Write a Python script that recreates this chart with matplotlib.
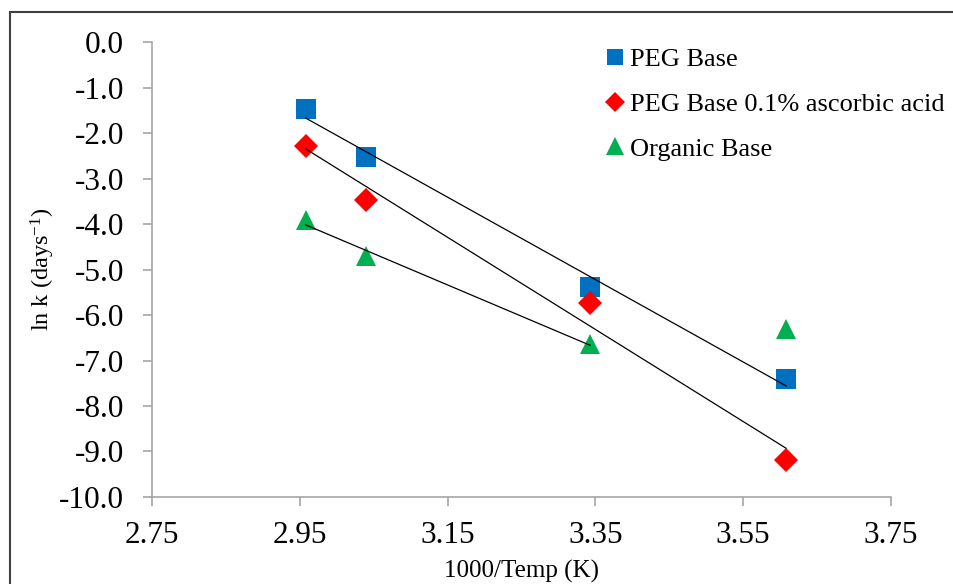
import numpy as np
import matplotlib
matplotlib.use("Agg")
import matplotlib.pyplot as plt
from matplotlib.lines import Line2D

plt.rcParams['font.family'] = ['Liberation Serif', 'DejaVu Serif']
plt.rcParams['axes.unicode_minus'] = False
plt.rcParams['mathtext.default'] = 'regular'

# data
inv_temp = [2.958, 3.039, 3.343, 3.608]
peg_base = [-1.47, -2.53, -5.38, -7.41]
peg_ascorbic = [-2.29, -3.47, -5.74, -9.19]
organic_base = [-3.92, -4.70, -6.64, -6.31]
organic_fit_n = 3  # trendline only through the first three points

x_ticks = [2.75, 2.95, 3.15, 3.35, 3.55, 3.75]
y_ticks = [0, -1, -2, -3, -4, -5, -6, -7, -8, -9, -10]

fig = plt.figure(figsize=(9.54, 5.84), dpi=100)
ax = fig.add_axes([0.1593, 0.149, 0.7746, 0.779])

series = [
    (peg_base, len(inv_temp), 's', '#0070C0', 13.7, 'PEG Base'),
    (peg_ascorbic, len(inv_temp), 'D', '#FF0000', 12.5, 'PEG Base 0.1% ascorbic acid'),
    (organic_base, organic_fit_n, '^', '#00B050', 14.6, 'Organic Base'),
]

for y, n, mk, col, ms, lab in series:
    ax.plot(inv_temp, y, linestyle='none', marker=mk, color=col,
            markersize=ms, markeredgewidth=0, label=lab, zorder=2)
    # linear trendline like excel
    xs = np.array(inv_temp[:n])
    k, b = np.polyfit(xs, np.array(y[:n]), 1)
    xl = np.array([xs.min(), xs.max()])
    ax.plot(xl, k * xl + b, color='black', linewidth=0.9, zorder=3)

ax.set_xlim(2.75, 3.75)
ax.set_ylim(-10, 0)
ax.set_xticks(x_ticks)
ax.set_yticks(y_ticks)
ax.set_xticklabels(['%.2f' % v for v in x_ticks])
ax.set_yticklabels(['%.1f' % v for v in y_ticks])

for s in ['top', 'right']:
    ax.spines[s].set_visible(False)
for s in ['left', 'bottom']:
    ax.spines[s].set_color('#A6A6A6')
    ax.spines[s].set_linewidth(1.2)
ax.tick_params(axis='both', direction='out', length=6.5, width=1.2,
               color='#A6A6A6', labelsize=22.5)
ax.tick_params(axis='x', pad=11)
ax.tick_params(axis='y', pad=13.5)

ax.set_xlabel('1000/Temp (K)', fontsize=18, va='center')
ax.set_ylabel('ln k (days$^{-1}$)', fontsize=17.5, va='center')
ax.xaxis.set_label_coords(0.5, -0.1627)
ax.yaxis.set_label_coords(-0.1476, 0.5)

leg = ax.legend(loc='upper left', bbox_to_anchor=(0.6346, 0.9179),
                bbox_transform=fig.transFigure, frameon=False, fontsize=19,
                handlelength=0.7, handletextpad=0.25, labelspacing=0.8,
                markerscale=0.85, borderaxespad=0, borderpad=0)

# outer frame (top and left edges only)
fig.add_artist(Line2D([0.0105, 1.0], [0.9795, 0.9795], color='#404040',
                      linewidth=1.5, transform=fig.transFigure))
fig.add_artist(Line2D([0.0105, 0.0105], [0.0, 0.9795], color='#404040',
                      linewidth=1.5, transform=fig.transFigure))

fig.savefig('out.png', dpi=100)
